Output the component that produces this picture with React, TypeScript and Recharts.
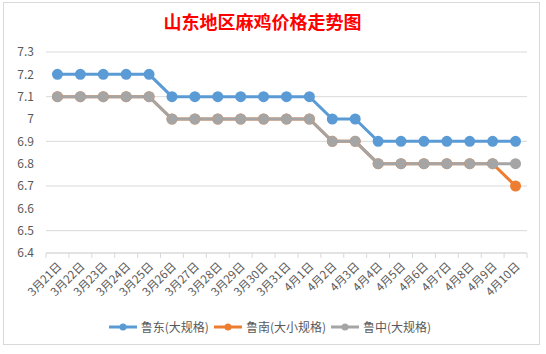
import React from "react";
import { LineChart, Line, XAxis, YAxis, CartesianGrid, Legend } from "recharts";

const categories = ["3月21日","3月22日","3月23日","3月24日","3月25日","3月26日","3月27日","3月28日","3月29日","3月30日","3月31日","4月1日","4月2日","4月3日","4月4日","4月5日","4月6日","4月7日","4月8日","4月9日","4月10日"];
const ludong = [7.2,7.2,7.2,7.2,7.2,7.1,7.1,7.1,7.1,7.1,7.1,7.1,7.0,7.0,6.9,6.9,6.9,6.9,6.9,6.9,6.9];
const lunan = [7.1,7.1,7.1,7.1,7.1,7.0,7.0,7.0,7.0,7.0,7.0,7.0,6.9,6.9,6.8,6.8,6.8,6.8,6.8,6.8,6.7];
const luzhong = [7.1,7.1,7.1,7.1,7.1,7.0,7.0,7.0,7.0,7.0,7.0,7.0,6.9,6.9,6.8,6.8,6.8,6.8,6.8,6.8,6.8];
const yTicks = [6.4,6.5,6.6,6.7,6.8,6.9,7.0,7.1,7.2,7.3];
const seriesNames = ["鲁东(大规格)","鲁南(大小规格)","鲁中(大规格)"];
const colors = ["#5B9BD5","#ED7D31","#A5A5A5"];

const data = categories.map((c, i) => ({ name: c, a: ludong[i], b: lunan[i], c: luzhong[i] }));

const FONT = "'Noto Sans CJK SC', 'Noto Sans', sans-serif";
const W = 537;
const H = 343;
const CW = W - 2;
const CH = H - 2;
const PLOT_LEFT = 42;
const PLOT_RIGHT = 12;
const BAND = (CW - PLOT_LEFT - PLOT_RIGHT) / categories.length;

const XTick = (props: any) => {
  const { x, y, payload, index } = props;
  const last = index === categories.length - 1;
  return (
    <g>
      <line x1={x - BAND / 2} x2={x - BAND / 2} y1={y - 8} y2={y - 3} stroke="#d9d9d9" />
      {last && <line x1={x + BAND / 2} x2={x + BAND / 2} y1={y - 8} y2={y - 3} stroke="#d9d9d9" />}
      <text
        x={x + 5}
        y={y + 6}
        textAnchor="end"
        fill="#595959"
        fontSize={11.5}
        fontFamily={FONT}
        transform={`rotate(-45, ${x + 5}, ${y + 6})`}
      >
        {payload.value}
      </text>
    </g>
  );
};

const LegendContent = () => (
  <div style={{ display: "flex", justifyContent: "center", fontFamily: FONT, fontSize: 12, color: "#595959", paddingLeft: 12 }}>
    {seriesNames.map((n, i) => (
      <div key={n} style={{ display: "flex", alignItems: "center", marginRight: 4 }}>
        <svg width={30} height={12} style={{ marginRight: 3 }}>
          <line x1={1} x2={29} y1={6} y2={6} stroke={colors[i]} strokeWidth={3} />
          <circle cx={15} cy={6} r={3.5} fill={colors[i]} />
        </svg>
        <span>{n}</span>
      </div>
    ))}
  </div>
);

export default function App() {
  return (
    <div style={{ position: "absolute", left: 0, top: 0, width: 546, height: 354, background: "#fff" }}>
      <div style={{ position: "absolute", left: 3, top: 2, width: W, height: H, border: "1px solid #d9d9d9", boxSizing: "border-box", background: "#fff" }}>
        <div style={{ position: "absolute", left: -10, top: 5, width: W, textAlign: "center", color: "#FF0000", fontFamily: FONT, fontWeight: 700, fontSize: 18 }}>
          山东地区麻鸡价格走势图
        </div>
        <LineChart width={CW} height={CH} data={data} margin={{ top: 49, right: PLOT_RIGHT, left: 0, bottom: 0 }}>
          <CartesianGrid vertical={false} stroke="#d9d9d9" />
          <XAxis
            dataKey="name"
            interval={0}
            tick={<XTick />}
            tickLine={false}
            stroke="#d9d9d9"
            height={74}
            padding={{ left: BAND / 2, right: BAND / 2 }}
          />
          <YAxis
            width={PLOT_LEFT}
            domain={[6.4, 7.3]}
            ticks={yTicks}
            tickFormatter={(v: number) => String(Math.round(v * 10) / 10)}
            axisLine={false}
            tickLine={false}
            tick={{ fill: "#595959", fontSize: 12, fontFamily: FONT }}
            tickMargin={6}
          />
          <Legend verticalAlign="bottom" content={<LegendContent />} wrapperStyle={{ bottom: 9 }} />
          <Line dataKey="a" name={seriesNames[0]} stroke={colors[0]} strokeWidth={3} dot={{ r: 4, fill: colors[0], stroke: colors[0] }} isAnimationActive={false} />
          <Line dataKey="b" name={seriesNames[1]} stroke={colors[1]} strokeWidth={3} dot={{ r: 4, fill: colors[1], stroke: colors[1] }} isAnimationActive={false} />
          <Line dataKey="c" name={seriesNames[2]} stroke={colors[2]} strokeWidth={3} dot={{ r: 4, fill: colors[2], stroke: colors[2] }} isAnimationActive={false} />
        </LineChart>
      </div>
    </div>
  );
}
